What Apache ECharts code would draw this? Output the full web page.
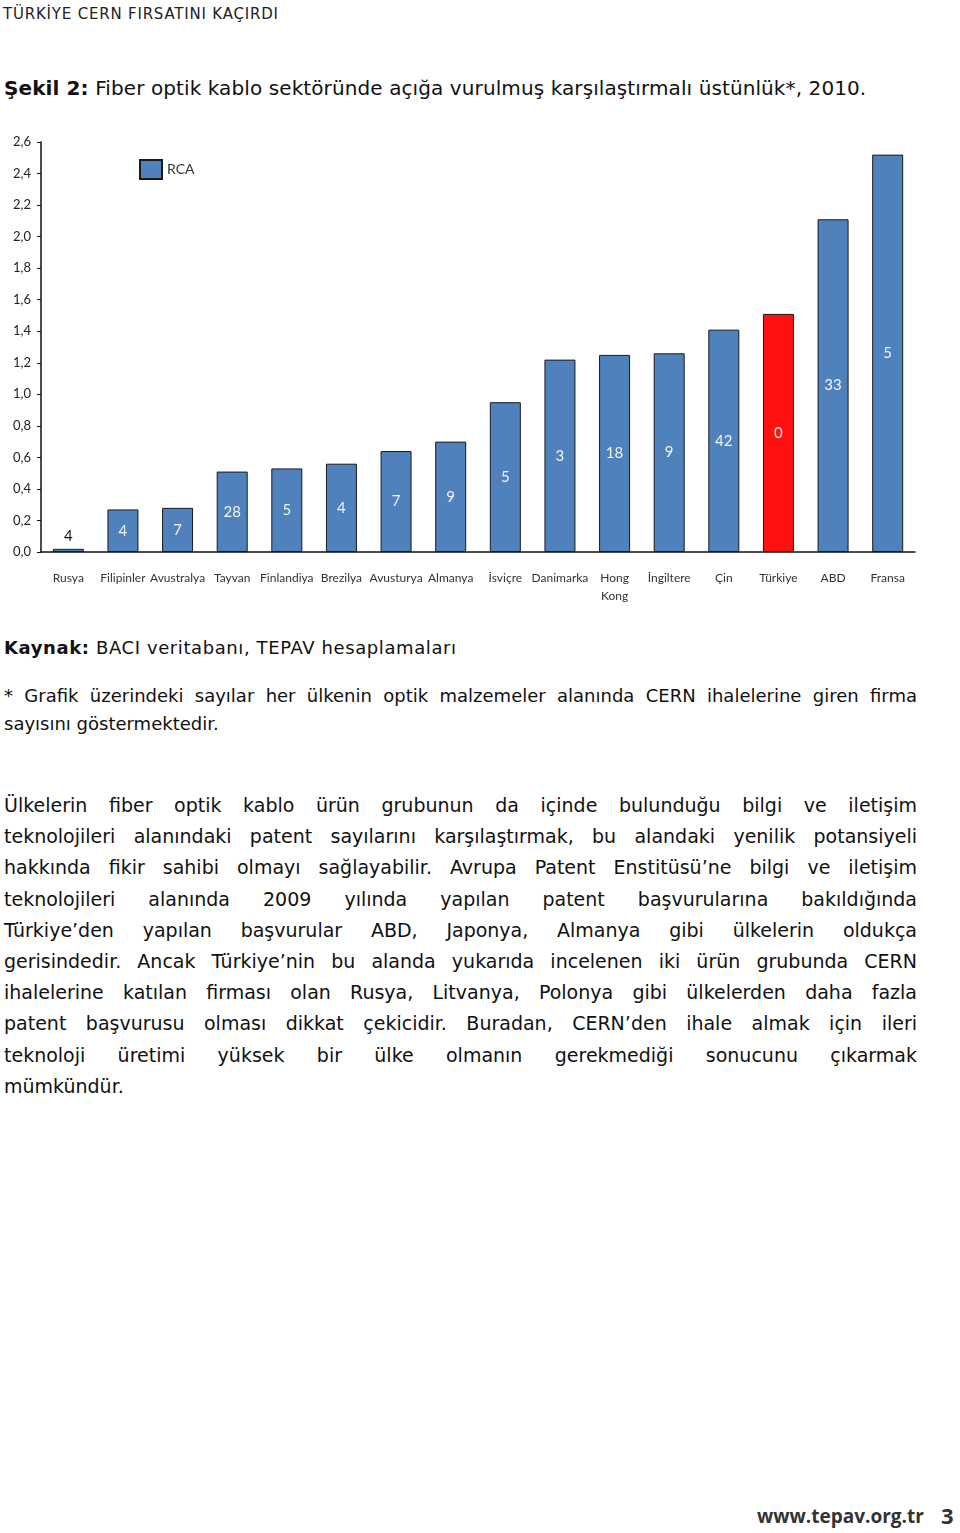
<!DOCTYPE html>
<html>
<head>
<meta charset="utf-8">
<script src="https://cdn.jsdelivr.net/npm/echarts@6/dist/echarts.min.js"></script>
<style>
    body { margin: 0; background: #fff; width: 960px; height: 1533px; position: relative; overflow: hidden; font-family: "DejaVu Sans", sans-serif; color: #111; }
    .t { position: absolute; white-space: nowrap; }
    .j { text-align: justify; text-align-last: justify; left: 4px; width: 913px; }
    #chart { position: absolute; left: 0; top: 0; width: 960px; height: 620px; }
</style>
</head>
<body>
<div class="t" style="left:3px;top:5px;font-size:15px;color:#222;letter-spacing:0.8px;">TÜRKİYE CERN FIRSATINI KAÇIRDI</div>
<div class="t" style="left:4px;top:76px;font-size:20px;letter-spacing:0.1px;"><b>Şekil 2:</b> Fiber optik kablo sektöründe açığa vurulmuş karşılaştırmalı üstünlük*, 2010.</div>
<div id="chart"></div>
<div class="t" style="left:4px;top:637px;font-size:18px;letter-spacing:0.6px;"><b>Kaynak:</b> BACI veritabanı, TEPAV hesaplamaları</div>
<div id="note"></div>
<div id="para"></div>
<div class="t" style="left:757px;top:1503px;font-size:19px;font-weight:bold;color:#333;font-family:'Open Sans';">www.tepav.org.tr</div>
<div class="t" style="left:941px;top:1500px;font-size:22px;font-weight:bold;color:#333;font-family:'Open Sans';">3</div>
<script>
// RCA değerleri ve CERN ihalelerine giren firma sayıları
let countries = ['Rusya', 'Filipinler', 'Avustralya', 'Tayvan', 'Finlandiya', 'Brezilya', 'Avusturya', 'Almanya',
    'İsviçre', 'Danimarka', 'Hong\nKong', 'İngiltere', 'Çin', 'Türkiye', 'ABD', 'Fransa']
let rca = [0.02, 0.27, 0.28, 0.51, 0.53, 0.56, 0.64, 0.70, 0.95, 1.22, 1.25, 1.26, 1.41, 1.51, 2.11, 2.52]
let firms = [4, 4, 7, 28, 5, 4, 7, 9, 5, 3, 18, 9, 42, 0, 33, 5]
let yTicks = ['0,0', '0,2', '0,4', '0,6', '0,8', '1,0', '1,2', '1,4', '1,6', '1,8', '2,0', '2,2', '2,4', '2,6']

let noteLines = [
    '* Grafik üzerindeki sayılar her ülkenin optik malzemeler alanında CERN ihalelerine giren firma',
    'sayısını göstermektedir.'
]
let paraLines = [
    'Ülkelerin fiber optik kablo ürün grubunun da içinde bulunduğu bilgi ve iletişim',
    'teknolojileri alanındaki patent sayılarını karşılaştırmak, bu alandaki yenilik potansiyeli',
    'hakkında fikir sahibi olmayı sağlayabilir.  Avrupa Patent Enstitüsü’ne bilgi ve iletişim',
    'teknolojileri alanında 2009 yılında yapılan patent başvurularına bakıldığında',
    'Türkiye’den yapılan başvurular ABD, Japonya, Almanya gibi ülkelerin oldukça',
    'gerisindedir. Ancak Türkiye’nin bu alanda yukarıda incelenen iki ürün grubunda CERN',
    'ihalelerine katılan firması olan Rusya, Litvanya,  Polonya gibi ülkelerden daha fazla',
    'patent başvurusu olması dikkat çekicidir. Buradan, CERN’den ihale almak için ileri',
    'teknoloji üretimi yüksek bir ülke olmanın gerekmediği sonucunu çıkarmak',
    'mümkündür.'
]

function putLines(id, lines, top, step, size) {
    let box = document.getElementById(id)
    lines.forEach((txt, i) => {
        let d = document.createElement('div')
        d.className = 't' + (i < lines.length - 1 ? ' j' : '')
        d.style.left = '4px'
        d.style.top = (top + i * step) + 'px'
        d.style.fontSize = size + 'px'
        d.textContent = txt
        box.appendChild(d)
    })
}
putLines('note', noteLines, 685, 28, 18)
putLines('para', paraLines, 794, 31.2, 19)

let myChart = echarts.init(document.getElementById('chart'))
let barData = rca.map((v, i) => {
    let item = { value: v }
    if (countries[i] === 'Türkiye') item.itemStyle = { color: '#ff1111' }
    if (i === 0) item.label = { position: 'top', color: '#111', distance: 5 }
    return item
})
let option = {
    animation: false,
    textStyle: { fontFamily: 'Lato' },
    grid: { left: 41, right: 45, top: 142, bottom: 68, containLabel: false },
    legend: {
        left: 134, top: 154,
        itemWidth: 22, itemHeight: 19, itemGap: 5,
        textStyle: { fontSize: 14, color: '#333', fontFamily: 'Lato' },
        data: [{ name: 'RCA', icon: 'rect' }]
    },
    xAxis: {
        type: 'category',
        data: countries,
        axisLine: { lineStyle: { color: '#111', width: 1.5 } },
        axisTick: { show: false },
        axisLabel: { interval: 0, margin: 17, fontSize: 12, color: '#333', lineHeight: 18, fontFamily: 'Lato' }
    },
    yAxis: {
        type: 'value',
        min: 0, max: 2.6, interval: 0.2,
        splitLine: { show: false },
        axisLine: { show: true, lineStyle: { color: '#111', width: 1.5 } },
        axisTick: { show: true, length: 4, lineStyle: { color: '#111' } },
        axisLabel: {
            margin: 10, fontSize: 13, color: '#222', fontFamily: 'Lato',
            formatter: (v) => yTicks[Math.round(v / 0.2)]
        }
    },
    series: [{
        name: 'RCA',
        type: 'bar',
        barWidth: 31,
        data: barData,
        itemStyle: { color: '#4f81bd', borderColor: '#1a1a1a', borderWidth: 1 },
        label: {
            show: true,
            position: 'inside',
            color: '#f4f4f4',
            fontSize: 15,
            fontFamily: 'Lato',
            formatter: (p) => String(firms[p.dataIndex])
        }
    }]
}
myChart.setOption(option)
</script>
</body>
</html>
